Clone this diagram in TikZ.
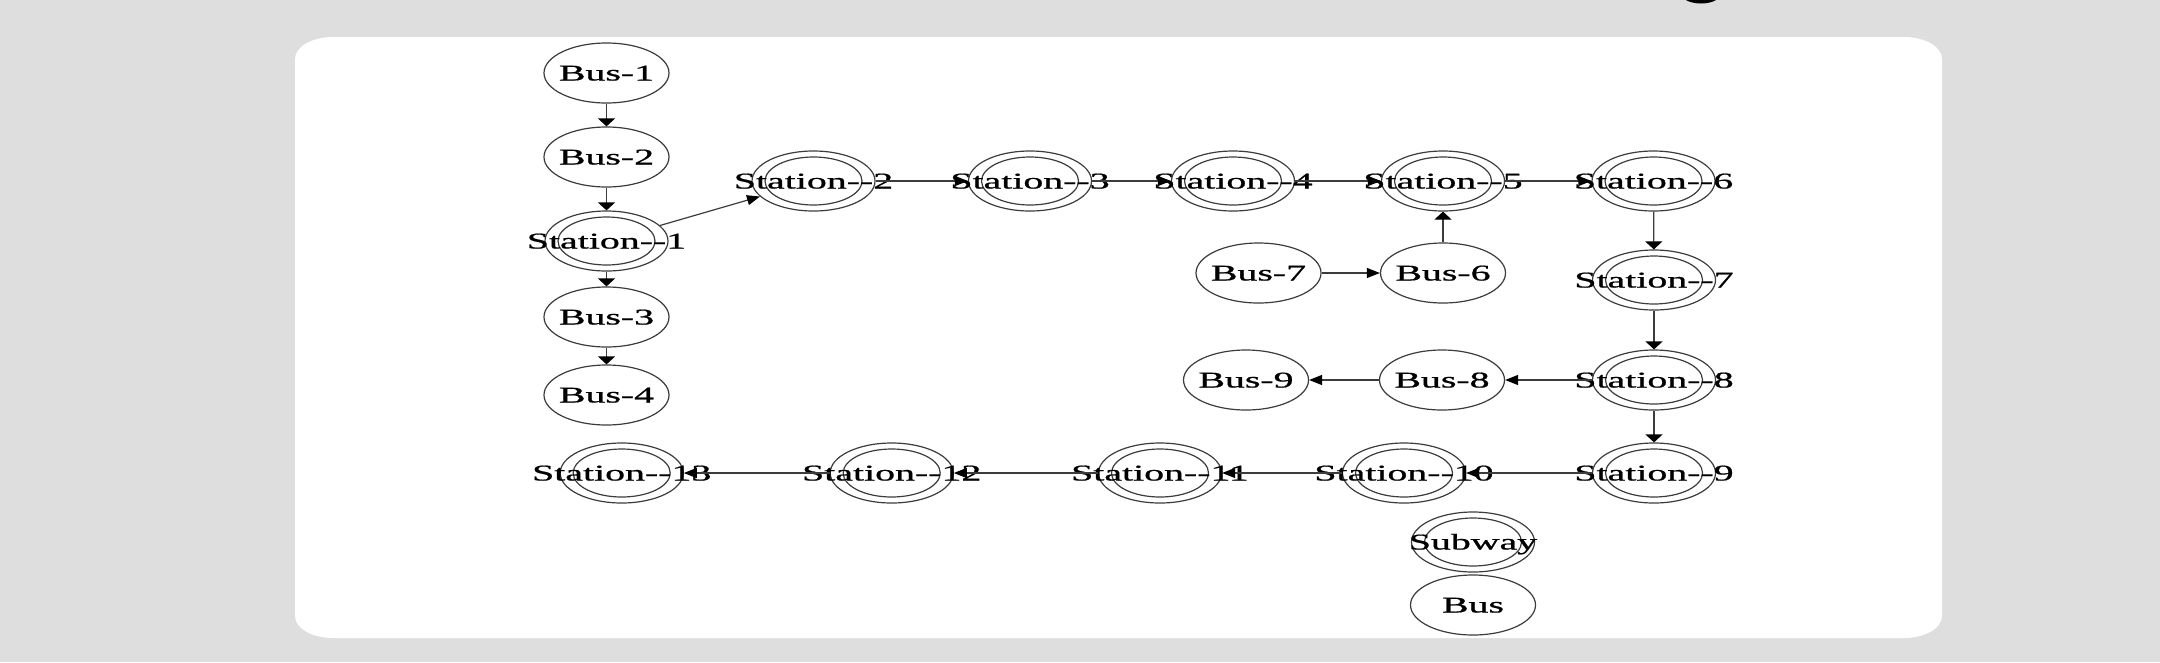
\documentclass[tikz,border=0pt]{standalone}
\usepackage{fontspec}
\setmainfont{Liberation Serif}
\newfontfamily\lblfont{Liberation Serif}[FakeBold=0.7]
\usetikzlibrary{shapes.geometric,arrows.meta}
\definecolor{bggray}{RGB}{222,222,222}
\definecolor{edgecol}{RGB}{60,60,60}
\newcommand\nlab[1]{\makebox[0pt]{\scalebox{1.77}[1]{#1}}}
\tikzset{
  busnode/.style={ellipse, draw=edgecol, line width=1.2pt, minimum width=125pt,
    minimum height=60pt, inner sep=0pt, text height=15pt, text depth=0pt,
    font=\lblfont\fontsize{22.5}{27}\selectfont},
  stationnode/.style={busnode, minimum width=123pt,
    path picture={\draw[line width=1.2pt, edgecol] (path picture bounding box.center)
      ellipse [x radius=48.5pt, y radius=24pt];}},
  conn/.style={draw=edgecol, line width=1.2pt},
  harr/.style={conn, -{Triangle[length=13pt,width=10pt,color=black]}},
  varr/.style={conn, -{Triangle[length=8pt,width=17pt,color=black]}},
}
\begin{document}
\begin{tikzpicture}[x=1pt,y=-1pt]
\useasboundingbox (0,0) rectangle (2160,662);
\fill[bggray] (0,0) rectangle (2160,662);
\begin{scope}
\clip (0,0) rectangle (2160,662);
\fill[black] (1701,-9) ellipse [x radius=22pt, y radius=12.5pt];
\end{scope}
\fill[white] (333,37) -- (1904,37) arc[start angle=90,end angle=0,x radius=38pt,y radius=22pt]
  -- (1942,616) arc[start angle=0,end angle=-90,x radius=38pt,y radius=22pt]
  -- (333,638) arc[start angle=-90,end angle=-180,x radius=38pt,y radius=22pt]
  -- (295,59) arc[start angle=180,end angle=90,x radius=38pt,y radius=22pt] -- cycle;

% left column
\node[busnode] (b1) at (606.5,73) {\nlab{Bus-1}};
\node[busnode] (b2) at (606.5,157) {\nlab{Bus-2}};
\node[stationnode] (s1) at (606.5,241) {\nlab{Station-{}-1}};
\node[busnode] (b3) at (606.5,317) {\nlab{Bus-3}};
\node[busnode] (b4) at (606.5,395) {\nlab{Bus-4}};
% top row
\node[stationnode] (s2) at (813.5,181) {\nlab{Station-{}-2}};
\node[stationnode] (s3) at (1030,181) {\nlab{Station-{}-3}};
\node[stationnode] (s4) at (1233,181) {\nlab{Station-{}-4}};
\node[stationnode] (s5) at (1443,181) {\nlab{Station-{}-5}};
\node[stationnode] (s6) at (1653.5,181) {\nlab{Station-{}-6}};
% middle
\node[busnode] (b7) at (1258.5,273) {\nlab{Bus-7}};
\node[busnode] (b6) at (1443,273) {\nlab{Bus-6}};
\node[stationnode] (s7) at (1654,280) {\nlab{Station-{}-7}};
\node[busnode] (b9) at (1246,380) {\nlab{Bus-9}};
\node[busnode] (b8) at (1442,380) {\nlab{Bus-8}};
\node[stationnode] (s8) at (1654,380) {\nlab{Station-{}-8}};
% bottom row
\node[stationnode] (s13) at (621.7,473) {\nlab{Station-{}-13}};
\node[stationnode] (s12) at (891.7,473) {\nlab{Station-{}-12}};
\node[stationnode] (s11) at (1160,473) {\nlab{Station-{}-11}};
\node[stationnode] (s10) at (1404,473) {\nlab{Station-{}-10}};
\node[stationnode] (s9) at (1654,473) {\nlab{Station-{}-9}};
% legend
\node[stationnode] (subway) at (1473,542) {\nlab{Subway}};
\node[busnode] (bus) at (1473,605) {\nlab{Bus}};

% connectors
\draw[varr] (b1) -- (b2);
\draw[varr] (b2) -- (s1);
\draw[varr] (s1) -- (b3);
\draw[varr] (b3) -- (b4);
\draw[harr] (s1) -- (s2);
\draw[harr] (s2) -- (s3);
\draw[harr] (s3) -- (s4);
\draw[harr] (s4) -- (s5);
\draw[harr] (s5) -- (s6);
\draw[harr] (b7) -- (b6);
\draw[varr] (b6) -- (s5);
\draw[varr] (s6) -- (s7);
\draw[varr] (s7) -- (s8);
\draw[harr] (s8) -- (b8);
\draw[harr] (b8) -- (b9);
\draw[varr] (s8) -- (s9);
\draw[harr] (s9) -- (s10);
\draw[harr] (s10) -- (s11);
\draw[harr] (s11) -- (s12);
\draw[harr] (s12) -- (s13);
\end{tikzpicture}
\end{document}
